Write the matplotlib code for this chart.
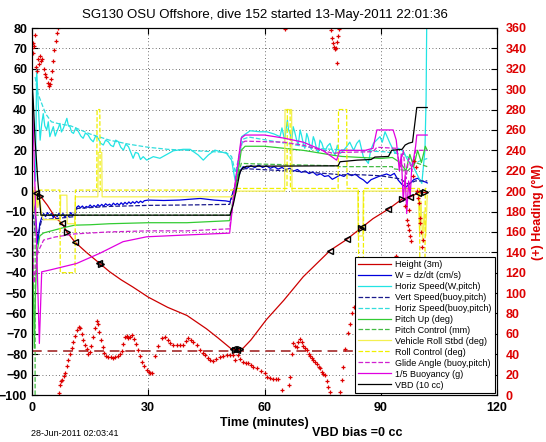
import numpy as np
import matplotlib
matplotlib.use('Agg')
import matplotlib.pyplot as plt

plt.rcParams['font.family'] = ['Liberation Sans', 'DejaVu Sans']

title = 'SG130 OSU Offshore, dive 152 started 13-May-2011 22:01:36'
stamp = '28-Jun-2011 02:03:41'
vbd_note = 'VBD bias =0 cc'

# ---- left axis series (time in minutes) ----
height_t = [0, 1, 2, 4, 6, 7.7, 9, 11.1, 14, 17.5, 20, 23, 26, 30, 35, 40, 45, 48, 51.5, 53, 54.5,
            56.5, 60.5, 65, 70, 77, 81, 85, 88, 92, 95.5, 97.5, 99.6, 102]
height_v = [0, -1, -2, -7, -13, -15.7, -20, -25, -30, -35.5, -39.5, -43.5, -47, -52, -57, -61, -67.5,
            -72, -77.5, -78, -77, -73, -63, -53.5, -42, -29, -24, -18, -13.5, -8.8, -3.9, -2.9, -1, -0.5]
mark_left_t = [1.0, 7.7, 11.1, 17.3, 51.8, 53.0, 76.9, 81.3, 85.2, 91.9, 97.5, 99.6]
mark_right_t = [2.1, 9.0, 17.7, 52.4, 53.6, 85.0, 95.5, 101.5]

w_t = [0, 0.5, 1, 1.5, 2, 2.5, 3, 3.5, 4, 4.5, 5, 5.5, 6, 6.5, 7, 7.5, 8, 8.5, 9, 9.5, 10, 10.5, 11,
       11.5, 12, 12.5, 13, 13.5, 14, 14.5, 15, 15.5, 16, 16.5, 17, 17.5, 18, 18.5, 19, 19.5, 20, 20.5,
       21, 21.5, 22, 22.5, 23, 23.5, 24, 24.5, 25, 25.5, 26, 26.5, 27, 27.5, 28, 28.5, 29, 30, 34, 38,
       43.4, 47, 50, 51.1, 52.3, 53.5, 54.5, 55.5, 56.5, 57.5, 58.5, 59.5, 60.5, 61.5, 62.5, 63.5,
       64.5, 65.5, 66.5, 67.5, 68.5, 69.5, 70.5, 71.5, 72.5, 73.5, 74.5, 75.5, 76.5, 77.5, 78.5, 79.5,
       80.5, 81.5, 82.5, 83.5, 84.5, 85.5, 86.5, 87.5, 88.5, 89.5, 90.5, 91.5, 92.5, 93.5, 94.5, 95.5,
       96.5, 97.5, 98.5, 99.5, 100.5, 101.5, 102]
w_v = [0, -6, -14, -26, -16, -13, -11, -12.5, -10.5, -12, -11, -13, -11.5, -12.5, -10.8, -12.2, -11,
       -13, -11.5, -12.5, -10.5, -12, -11, -8, -7.2, -8.2, -7.3, -8.4, -7.5, -8, -6.8, -7.9, -7, -7.8,
       -6.6, -7.5, -6.5, -7.4, -6.2, -7, -6.4, -7.2, -5.9, -6.8, -6, -6.9, -5.7, -6.6, -5.5, -6.4,
       -5.3, -6.2, -5.2, -6, -5, -5.8, -4.9, -5.6, -4.7, -4.4, -4.6, -4.4, -3.6, -4.4, -4.8, -5.2,
       2, 9.5, 12, 11.2, 12.5, 11.5, 12.8, 11.6, 12.4, 11.2, 12, 10.8, 11.6, 10.5, 11.2, 9.8, 10.6,
       9.2, 9.9, 8.6, 9.4, 7.8, 8.5, 7.2, 7.6, 5.8, 6.8, 7.9, 7.2, 8.6, 7.6, 8.3, 6.6, 5.5, 3.8, 5.6,
       6.4, 7.2, 7.8, 8.4, 7.6, 8.7, 5.4, 3.2, 2.0, 3.6, 5.6, 6.3, 5.0, 4.5, 4]

hsw_t = [0.9, 1.2, 1.6, 2.1, 2.5, 2.9, 3.3, 3.8, 4.2, 4.6, 5.0, 5.5, 6.0, 6.4, 6.8, 7.2, 7.6, 8.1,
         8.5, 9.0, 9.4, 9.8, 10.2, 10.7, 11.3, 12.0, 12.6, 13.2, 13.8, 14.5, 15.1, 15.8, 16.4, 17.1,
         17.7, 18.4, 19.0, 19.7, 20.3, 21.0, 21.6, 22.3, 22.9, 23.6, 24.2, 24.9, 25.5, 26.1, 26.7,
         27.4, 28.0, 28.7, 29.6, 31.3, 33, 34.8, 36.5, 39, 40.8, 42.9, 44.2, 45.5, 47.2, 50.2, 51.5,
         52.4, 53.2, 54.1, 56.3, 58.8, 60.6, 62.5, 64, 64.5, 65.2, 65.9, 66.2, 66.6, 67, 67.4, 67.8,
         68.3, 68.7, 69.2, 69.6, 70, 70.4, 70.9, 71.3, 71.7, 72.1, 72.6, 73, 73.5, 73.9, 74.3, 74.8,
         75.2, 75.6, 76.2, 76.9, 77.5, 78.2, 78.8, 79.5, 80.2, 81.2, 82, 83, 83.8, 84.5, 85.5, 86.8,
         87.4, 88.1, 89.8, 90.4, 91.1, 92.4, 93.7, 94.5, 95.4, 96, 96.7, 97.5, 98.4, 99.7, 100.6,
         101.4, 101.7, 101.9]
hsw_v = [5, 60, 43, 25, 33, 38, 32, 30, 34, 26.7, 29, 31.6, 27, 29.1, 31, 33.2, 29, 30.8, 33, 35.7,
         32, 31.6, 29, 28.3, 31, 29.1, 27, 25.9, 28.5, 27.5, 25.5, 24.2, 27, 25.9, 23.5, 22.6, 25,
         24.2, 22.5, 21.8, 25, 24.2, 21.5, 20.1, 23, 21.8, 19, 16.1, 19, 18.5, 15.5, 16.9, 15.2, 16.9,
         16.1, 18, 19.8, 20.5, 20.5, 17.7, 15.2, 17.7, 20.1, 18.5, 15.2, 5.4, 11.9, 26.7, 29.6, 29.1,
         29.1, 28, 26.7, 31, 25, 34.9, 30, 28.3, 24, 31.6, 29, 25, 22.5, 30, 27, 23.4, 21, 28.3, 26,
         21.8, 20.5, 26.7, 24.5, 20.1, 19, 25, 23.5, 21, 19.3, 22, 23.4, 20, 17.7, 22.5, 18.5, 19.5,
         21.8, 24, 20, 23.4, 25, 16.9, 13.6, 20, 23.4, 26.7, 24, 29.1, 23.4, 18.5, 21, 20.1, 19, 16.1,
         14, 11.9, 7, 3.8, 20, 44.7, 90]

vs_t = [0, 0.8, 1.5, 2.5, 6, 11, 11.6, 20, 30, 40, 51, 52.5, 54, 55, 60, 70, 80, 85, 90, 95, 97, 99, 102]
vs_v = [-5, -20, -22, -14, -13.5, -12.5, -8.5, -7.5, -7, -6.8, -6.5, 3, 10.5, 11, 10.5, 9.5, 8, 8,
        7.5, 6, 3.5, 5, 5]

hsb_t = [0.8, 1.5, 2.5, 3.5, 5, 7, 10, 15, 20, 25, 30, 35, 40, 45, 50, 51.5, 52.5, 53.5, 54.5, 56,
         65, 73, 82, 91, 96, 99, 102]
hsb_v = [56, 48, 43, 38, 34, 33, 32, 28, 25, 23, 21.5, 20.5, 20, 19.5, 19, 17, 9, 18, 25.5, 26.5,
         23.6, 21, 20, 19.3, 18, 14, 16]

pitch_t = [0, 0.3, 0.6, 0.9, 1.3, 2, 3, 5, 8, 11, 15, 20, 30, 40, 51, 52.5, 54, 55, 60, 70, 78, 80,
           85, 90, 93, 95, 96.5, 97.5, 98.5, 99.5, 100.5, 101.5, 102]
pitch_v = [-2, -40, -77, -50, -30, -22, -20.5, -19.5, -18, -16.7, -16.5, -16, -15.5, -15.5, -14.5, 0,
           20, 22, 22, 20, 17.5, 17, 16.5, 16, 16.5, 14, 10, 18, 12, 20, 14, 22, 20]

pitchctl_t = [0, 0.8, 0.81, 51.2, 52.5, 54.0, 60, 79, 79.1, 93, 93.1, 97, 99, 102]
pitchctl_v = [-105, -105, -11.8, -11.8, 2, 13.6, 13.2, 12.4, 12, 12, 11, 10, 14, 12]

roll_t = [0, 0.3, 0.6, 0.9, 1.2, 1.5, 2, 2.5, 3, 7.3, 7.4, 9.0, 9.1, 11.0, 11.2, 17.0, 17.1, 18.0,
          18.1, 51.5, 53, 65.2, 65.3, 67, 67.1, 84.1, 84.2, 85.4, 85.5, 99.7, 100.0, 100.4, 100.8,
          101.2, 101.6, 102]
roll_v = [5, -10, 2, -12, 0, -8, -3, -12, -14, -14, -2, -2, -16, -16, -2.8, -2.8, 19, 19, -2.8,
          -2.8, 0, 0, 40, 40, 0, 0, -22, -22, 0, 0, -20, -5, -25, -10, -22, -2]

rollctl_t = [0, 1, 1.1, 7.2, 7.3, 11.1, 11.2, 16.7, 16.8, 17.5, 17.6, 51.5, 53, 65.8, 65.9, 66.6,
             66.7, 79.0, 79.1, 81.2, 81.3, 84.2, 84.3, 85.5, 85.6, 100.0, 100.1, 101.4, 101.5, 102]
rollctl_v = [0, 0, 0.5, 0.5, -40, -40, 0.5, 0.5, 40, 40, 0.5, 0.5, 1.3, 1.3, 40, 40, 1.3, 1.3, 40,
             40, 1.3, 1.3, -40, -40, 1.3, 1.3, -40, -40, 1.3, 1.3]

glide_t = [0, 0.5, 1.5, 3, 6, 11, 20, 30, 40, 51, 52.5, 54, 55, 65, 70, 77.7, 80, 88, 89, 94, 95,
           95.8, 96.5, 97.2, 98, 99, 102]
glide_v = [-10, -45, -30, -24, -22.5, -21, -20, -19.5, -19.5, -18.5, 5, 23.5, 24.5, 24, 22.5, 18.5,
           19, 19.3, 21.5, 21, 12, 20, 6, 16, 10, 20, 20]

buoy_t = [0, 0.8, 1.9, 2.5, 4.6, 11.5, 17.5, 23.5, 29.6, 40, 51, 52.5, 54, 55, 60, 65, 70, 75, 78.6,
          79.5, 86, 88, 89, 93.2, 94, 94.8, 95.3, 95.8, 96.3, 96.7, 97.2, 97.6, 98, 98.4, 99, 99.3, 102]
buoy_v = [52, 0, -74.7, -39.6, -38.7, -35.5, -30.5, -24.8, -22.4, -21.5, -20.6, 5, 26, 27.5, 27.5,
          26, 24, 20, 15.2, 20, 20, 21, 30, 30, 25, 10, 18, -5, 8, -11, 5, -3, 12, 15, 22, 27.5, 27.5]

vbd_t = [0, 0.3, 0.8, 1.5, 2.3, 51.1, 52, 53, 53.7, 54.5, 55.4, 79, 79.5, 84, 87.5, 88.5, 92, 92.8,
         95.5, 96.3, 97.2, 98.2, 99.3, 102]
vbd_v = [54, 45, 25, 5, -11.8, -11.8, -6, 3, 9.5, 11.5, 12.2, 12.4, 14.4, 15.2, 15.5, 16.7, 17, 20,
         20.5, 22.6, 23.5, 24, 41, 41]

bottom_level = -78.5

# ---- right axis: heading (deg M) ----
head_t = [0.1, 0.2, 0.3, 0.5, 0.8, 1.0, 1.3, 1.5, 1.8, 2.0, 2.3, 2.6, 3.0, 3.3, 3.6, 4.0, 4.3, 4.6,
          4.9, 5.2, 5.5, 5.8, 6.1, 6.4, 6.7,
          6.9, 7.2, 7.5, 7.8, 8.2, 8.5, 9.0, 9.4, 9.8, 10.2, 10.6, 11.0, 11.5, 12.0, 12.4, 12.8, 13.2,
          13.6, 14.1, 14.5, 14.9, 15.3, 15.8, 16.2, 16.7, 17.0, 17.4, 17.8, 18.2, 18.7, 19.2, 19.7,
          20.3, 20.9, 21.5, 22.1, 22.7, 23.2, 23.6, 24.0, 24.4, 24.9, 25.4, 25.9, 26.4, 26.9, 27.4,
          27.9, 28.5, 29.0, 29.6, 30.1, 30.5,
          30.9, 31.7, 32.5, 33.5, 34.3, 35.0, 35.6, 36.4, 37.3, 38.2, 39.0, 39.7, 40.3, 41.0, 41.6,
          42.5, 43.4, 44.0, 44.6, 45.3, 46.0, 46.7, 47.6, 48.5, 49.3, 50.2, 51.0, 51.9, 52.4, 53.2,
          53.8, 54.5, 55.1, 55.7, 56.4, 57.0, 58.0, 59.0, 60.1, 60.6, 61.4, 62.2, 63.0, 63.5, 64.4,
          65.3, 66.2, 66.6, 67.0, 67.4, 67.8, 68.3, 68.7, 69.2, 69.6, 70.0, 70.5, 70.9, 71.4, 71.8,
          72.2, 72.6, 73.0, 73.5, 74.0, 74.3, 74.8, 75.2, 75.6, 76.0, 76.4, 76.9,
          77.2, 77.4, 77.6, 77.9, 78.2, 78.5, 78.6, 78.8, 79.0, 79.2,
          79.5, 80.0, 80.3, 80.9, 81.5, 82.0, 82.5, 83.0, 84, 86, 88, 90, 92, 94,
          96.3, 96.7, 97.0, 97.2, 97.4, 97.6, 97.8, 98.2, 98.6, 99.0, 99.3, 99.6, 99.8, 100.0, 100.2,
          100.4, 100.6, 100.8]
head_v = [340, 345, 335, 342, 353, 322, 318, 330, 325, 333, 328, 330, 320, 315, 312, 306, 303, 305,
          310, 318, 328, 338, 347, 355, 360,
          2, 10, 14, 15, 19, 22, 28, 34, 40, 46, 52, 58, 64, 67, 66, 60, 54, 49, 45, 40, 42, 48, 57,
          66, 73, 70, 62, 54, 47, 41, 38, 37, 37, 36, 37, 38, 40, 43, 50, 57, 58, 56, 57, 59, 55, 50,
          44, 38, 32, 28, 25, 23, 22,
          22, 38, 48, 56, 57, 54, 51, 49, 49, 49, 49, 53, 56, 54, 52, 49, 44, 41, 39, 36, 34, 33, 35,
          37.6, 38, 39, 39, 39, 34, 39, 35, 32.7, 31.5, 31, 29, 27.8, 26, 24, 22, 17.7, 17, 16, 16,
          16, 5,
          358.7, 10, 18, 40, 51, 48, 47, 52, 55, 52, 48, 46, 44, 40, 38, 36, 34, 32, 30, 27, 26, 23,
          21, 19.6, 14, 8, 3.3,
          358, 350, 345, 341, 339, 340, 326, 346, 352, 359,
          3.3, 15, 27.8, 45, 60.8, 70, 80.4, 86, 95, 108, 118, 126, 132, 136,
          185, 172, 167, 181, 162, 156, 150.6, 215, 229.6, 224, 200, 193, 188, 174, 169, 160, 145, 152]

labels = ['Height (3m)', 'W = dz/dt (cm/s)', 'Horiz Speed(W,pitch)', 'Vert Speed(buoy,pitch)',
          'Horiz Speed(buoy,pitch)', 'Pitch Up (deg)', 'Pitch Control (mm)', 'Vehicle Roll Stbd (deg)',
          'Roll Control (deg)', 'Glide Angle (buoy,pitch)', '1/5 Buoyancy (g)', 'VBD (10 cc)']

fig = plt.figure(figsize=(5.46, 4.42), dpi=100)
ax = fig.add_axes([32/546, 1-395/442, (497-32)/546, (395-28)/442])

lw = 0.9
h1, = ax.plot(height_t, height_v, '-', color='#cc0000', lw=lw)
h2, = ax.plot(w_t, w_v, '-', color='#0000dd', lw=lw)
h3, = ax.plot(hsw_t, hsw_v, '-', color='#22e4e4', lw=lw)
h4, = ax.plot(vs_t, vs_v, '--', color='#1a1a8c', lw=lw)
h5, = ax.plot(hsb_t, hsb_v, '--', color='#33dddd', lw=lw)
h6, = ax.plot(pitch_t, pitch_v, '-', color='#33cc33', lw=lw)
h7, = ax.plot(pitchctl_t, pitchctl_v, '--', color='#44bb44', lw=lw)
h8, = ax.plot(roll_t, roll_v, '-', color='#f4f050', lw=lw)
h9, = ax.plot(rollctl_t, rollctl_v, '--', color='#f0f000', lw=lw)
h10, = ax.plot(glide_t, glide_v, '--', color='#d020d0', lw=lw)
h11, = ax.plot(buoy_t, buoy_v, '-', color='#e000e0', lw=lw)
h12, = ax.plot(vbd_t, vbd_v, '-', color='k', lw=lw)
ax.axhline(bottom_level, color='#b04848', ls='--', lw=1.4, dashes=(5, 3))

# triangle markers along height trace
ax.plot(mark_left_t, np.interp(mark_left_t, height_t, height_v), '<', ms=5,
        mfc='none', mec='k', mew=1)
ax.plot(mark_right_t, np.interp(mark_right_t, height_t, height_v), '>', ms=5,
        mfc='none', mec='k', mew=1)

ax.set_xlim(0, 120)
ax.set_ylim(-100, 80)
ax.set_xticks([0, 30, 60, 90, 120])
ax.set_yticks(np.arange(-100, 81, 10))
ax.grid(True, linestyle=(0, (1, 3)), color='0.25', lw=0.6)
ax.tick_params(direction='in', length=4, top=True, labelsize=9, width=0.8)
ax.tick_params(axis='x', pad=5)
for lab in ax.get_xticklabels() + ax.get_yticklabels():
    lab.set_fontweight('bold')
ax.set_xlabel('Time (minutes)', fontsize=9, fontweight='bold', labelpad=2)
ax.set_title(title, fontsize=9.5, pad=7)

ax2 = ax.twinx()
ax2.plot(head_t, head_v, '+', color='#dd0000', ms=3.5, mew=0.9)
ax2.set_ylim(0, 360)
ax2.set_yticks(np.arange(0, 361, 20))
ax2.tick_params(direction='in', length=4, labelsize=9, width=0.8, pad=6,
                colors='k', labelcolor='#dd0000')
for lab in ax2.get_yticklabels():
    lab.set_fontweight('bold')
ax2.set_ylabel('(+) Heading (\u00b0M)', color='#dd0000', fontsize=9, fontweight='bold', labelpad=4)

leg = ax2.legend([h1, h2, h3, h4, h5, h6, h7, h8, h9, h10, h11, h12], labels, loc='lower right',
                 fontsize=6.5, fancybox=False, framealpha=1, edgecolor='k', handlelength=3.6,
                 handletextpad=0.5, labelspacing=0.22, borderaxespad=0.25, borderpad=0.35)
leg.get_frame().set_linewidth(0.8)

fig.text(31/546, 1-433/442, stamp, fontsize=6.5, va='center', ha='left')
fig.text(357/546, 1-433/442, vbd_note, fontsize=9, fontweight='bold', va='center', ha='center')

fig.savefig('out.png', dpi=100)
